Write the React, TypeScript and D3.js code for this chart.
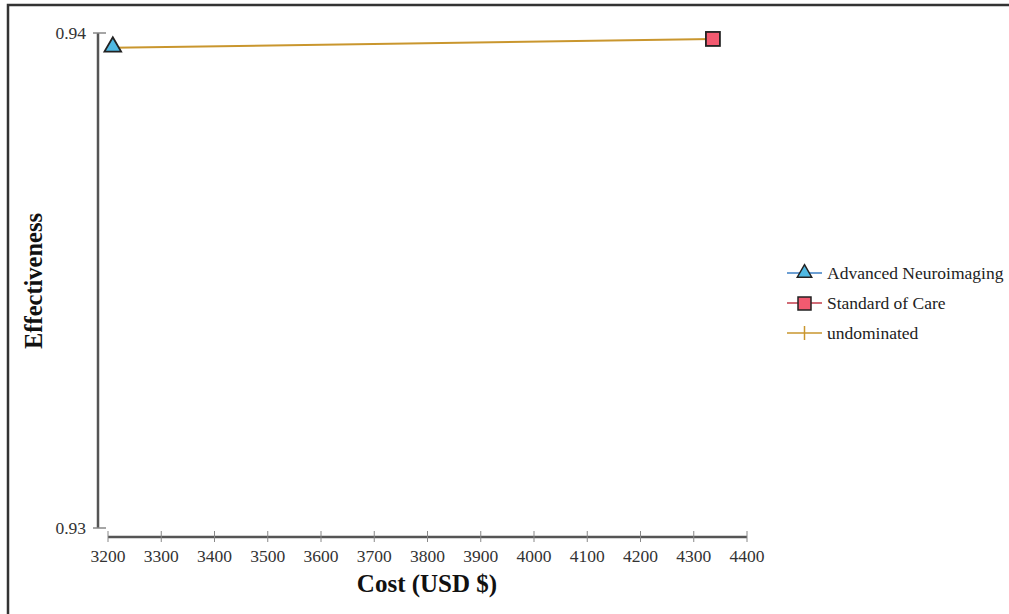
import React from "react";
import * as d3 from "d3";

// strategies: cost (USD) vs effectiveness
const strategies = ["Advanced Neuroimaging", "Standard of Care"];
const costs = [3209, 4336];
const effects = [0.9397, 0.93988];
const xTicks = [3200, 3300, 3400, 3500, 3600, 3700, 3800, 3900, 4000, 4100, 4200, 4300, 4400];
const yTicks = [0.93, 0.94];
const legendLabels = ["Advanced Neuroimaging", "Standard of Care", "undominated"];

const W = 1009;
const H = 614;
const FONT = "'Liberation Serif', 'Times New Roman', serif";

export default function App() {
  const x = d3.scaleLinear().domain([3200, 4400]).range([108, 747]);
  const y = d3.scaleLinear().domain([0.93, 0.94]).range([528, 33]);

  const pts = costs.map((c, i) => ({ name: strategies[i], cost: c, eff: effects[i] }));
  const line = d3
    .line<{ cost: number; eff: number }>()
    .x((d) => x(d.cost))
    .y((d) => y(d.eff));

  const tri = d3.symbol().type(d3.symbolTriangle).size(120)();
  const lineColors = ["#3d7fc4", "#c23b4a", "#c9962e"];
  const axisY = 537;
  const yAxisX = 98;

  const legendY = [273, 303, 333];

  return (
    <svg
      width={W}
      height={H}
      style={{ position: "absolute", left: 0, top: 0, background: "#fff" }}
      fontFamily={FONT}
    >
      <rect x={8} y={5} width={1010} height={630} fill="#fff" stroke="#333" strokeWidth={2.5} />

      {/* y axis */}
      <line x1={yAxisX} x2={yAxisX} y1={y(0.94)} y2={y(0.93)} stroke="#555" strokeWidth={2.5} />
      {yTicks.map((t) => (
        <g key={t}>
          <line x1={93} x2={106} y1={y(t)} y2={y(t)} stroke="#888" strokeWidth={1.5} />
          <text x={86} y={y(t) + 6} textAnchor="end" fontSize={17.5} fill="#333">
            {d3.format(".2f")(t)}
          </text>
        </g>
      ))}

      {/* x axis */}
      <line x1={x(3200)} x2={x(4400)} y1={axisY} y2={axisY} stroke="#555" strokeWidth={2.5} />
      {xTicks.map((t) => (
        <g key={t}>
          <line x1={x(t)} x2={x(t)} y1={axisY - 6} y2={axisY + 5} stroke="#888" strokeWidth={1} />
          <text x={x(t)} y={axisY + 25} textAnchor="middle" fontSize={17.5} fill="#333">
            {t}
          </text>
        </g>
      ))}

      <text x={427} y={592} textAnchor="middle" fontSize={25} fontWeight="bold" fill="#111">
        Cost (USD $)
      </text>
      <text
        transform={`translate(42, 281) rotate(-90)`}
        textAnchor="middle"
        fontSize={24.5}
        fontWeight="bold"
        fill="#111"
      >
        Effectiveness
      </text>

      {/* undominated frontier */}
      <path d={line(pts) || ""} fill="none" stroke={lineColors[2]} strokeWidth={2} />

      {/* markers */}
      <path
        d={tri || ""}
        transform={`translate(${x(pts[0].cost)}, ${y(pts[0].eff) - 1})`}
        fill="#4fb9e3"
        stroke="#222"
        strokeWidth={1.8}
      />
      <rect
        x={x(pts[1].cost) - 7}
        y={y(pts[1].eff) - 7}
        width={14}
        height={14}
        fill="#f35a70"
        stroke="#222"
        strokeWidth={1.8}
      />

      {/* legend */}
      {legendLabels.map((lab, i) => (
        <g key={lab}>
          <line x1={787} x2={822} y1={legendY[i]} y2={legendY[i]} stroke={lineColors[i]} strokeWidth={1.5} />
          {i === 0 && (
            <path
              d={d3.symbol().type(d3.symbolTriangle).size(90)() || ""}
              transform={`translate(804.5, ${legendY[i]})`}
              fill="#4fb9e3"
              stroke="#222"
              strokeWidth={1.5}
            />
          )}
          {i === 1 && (
            <rect x={798} y={legendY[i] - 6} width={13} height={13} fill="#f35a70" stroke="#222" strokeWidth={1.5} />
          )}
          {i === 2 && (
            <line x1={804.5} x2={804.5} y1={legendY[i] - 7} y2={legendY[i] + 7} stroke={lineColors[2]} strokeWidth={1.5} />
          )}
          <text x={827} y={legendY[i] + 6} fontSize={17.5} fill="#222">
            {lab}
          </text>
        </g>
      ))}
    </svg>
  );
}
